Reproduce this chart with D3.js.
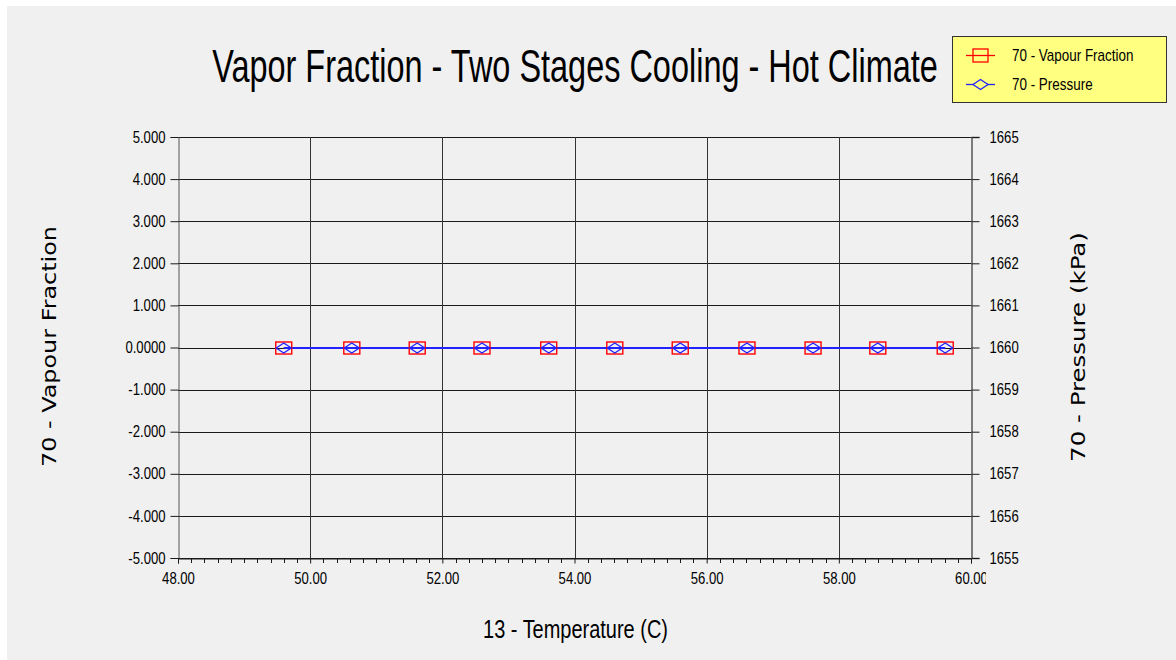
<!DOCTYPE html>
<html><head><meta charset="utf-8">
<script src="https://cdn.jsdelivr.net/npm/d3@7"></script>
<style>
html,body{margin:0;padding:0;background:#fff;}
svg{display:block;}
text{font-family:"Liberation Sans",Arial,sans-serif;fill:#000;}
</style></head>
<body>
<script>
// ---- data ----
const temperature = [49.60, 50.63, 51.62, 52.60, 53.61, 54.61, 55.60, 56.61, 57.61, 58.59, 59.61];
const vapourFraction = [0, 0, 0, 0, 0, 0, 0, 0, 0, 0, 0];
const pressure = [1660, 1660, 1660, 1660, 1660, 1660, 1660, 1660, 1660, 1660, 1660];
const xTicks = [48, 50, 52, 54, 56, 58, 60];
const xTickLabels = ["48.00", "50.00", "52.00", "54.00", "56.00", "58.00", "60.00"];
const leftTicks = [5, 4, 3, 2, 1, 0, -1, -2, -3, -4, -5];
const leftTickLabels = ["5.000", "4.000", "3.000", "2.000", "1.000", "0.0000", "-1.000", "-2.000", "-3.000", "-4.000", "-5.000"];
const rightTicks = [1665, 1664, 1663, 1662, 1661, 1660, 1659, 1658, 1657, 1656, 1655];
const rightTickLabels = ["1665", "1664", "1663", "1662", "1661", "1660", "1659", "1658", "1657", "1656", "1655"];
const seriesNames = ["70 - Vapour Fraction", "70 - Pressure"];
const titleText = "Vapor Fraction - Two Stages Cooling - Hot Climate";
const xLabel = "13 - Temperature (C)";
const leftLabel = "70 - Vapour Fraction";
const rightLabel = "70 - Pressure (kPa)";

// ---- layout ----
const W = 1176, H = 660;
const L = 178, R = 971, T = 137, B = 558;
const NARROW = 0.82;

const svg = d3.select("body").append("svg").attr("width", W).attr("height", H);
svg.append("rect").attr("x", 7).attr("y", 6).attr("width", W - 7).attr("height", H - 6).attr("fill", "#f0f0f0");

const x = d3.scaleLinear().domain([48, 60]).range([L, R]);
const yL = d3.scaleLinear().domain([-5, 5]).range([B, T]);
const yR = d3.scaleLinear().domain([1655, 1665]).range([B, T]);

// horizontally squeeze a text around its own x anchor
function squeeze(sel, sx) {
  sel.each(function () {
    const ax = +(this.getAttribute("x") || 0);
    this.setAttribute("transform", `translate(${ax * (1 - sx)},0) scale(${sx},1)`);
  });
}

svg.append("defs").append("clipPath").attr("id", "xclip")
  .append("rect").attr("x", 0).attr("y", -10).attr("width", 986).attr("height", 60);

// horizontal gridlines
svg.append("g").selectAll("line").data(leftTicks).join("line")
  .attr("x1", L).attr("x2", R)
  .attr("y1", d => Math.round(yL(d)) + 0.5).attr("y2", d => Math.round(yL(d)) + 0.5)
  .attr("stroke", "#1a1a1a").attr("stroke-width", 1);

// vertical gridlines
svg.append("g").selectAll("line").data(xTicks.filter(d => d > 48 && d < 60)).join("line")
  .attr("x1", d => Math.round(x(d)) + 0.5).attr("x2", d => Math.round(x(d)) + 0.5)
  .attr("y1", T).attr("y2", B)
  .attr("stroke", "#333").attr("stroke-width", 1);

// Left axis
const gl = svg.append("g").attr("transform", `translate(${L + 0.5},0)`)
  .call(d3.axisLeft(yL).tickValues(leftTicks).tickSize(8).tickPadding(5)
    .tickFormat((d, i) => leftTickLabels[i]));
gl.select(".domain").attr("stroke", "#555");
gl.selectAll(".tick line").attr("stroke", "#1a1a1a");
gl.selectAll("text").attr("font-size", 16).attr("fill", "#000").style("font-family", '"Liberation Sans",Arial,sans-serif');
squeeze(gl.selectAll("text"), NARROW);

// Right axis
const gr = svg.append("g").attr("transform", `translate(${R + 0.5},0)`)
  .call(d3.axisRight(yR).tickValues(rightTicks).tickSize(8).tickPadding(10)
    .tickFormat((d, i) => rightTickLabels[i]));
gr.select(".domain").attr("stroke", "#555").attr("stroke-width", 1.5);
gr.selectAll(".tick line").attr("stroke", "#1a1a1a");
gr.selectAll("text").attr("font-size", 16).attr("fill", "#000").style("font-family", '"Liberation Sans",Arial,sans-serif');
squeeze(gr.selectAll("text"), NARROW);

// Bottom axis with major labels
const gb = svg.append("g").attr("transform", `translate(0,${B + 0.5})`).attr("clip-path", "url(#xclip)")
  .call(d3.axisBottom(x).tickValues(xTicks).tickSize(5).tickPadding(9)
    .tickFormat((d, i) => xTickLabels[i]));
gb.select(".domain").attr("stroke", "#1a1a1a");
gb.selectAll(".tick line").attr("stroke", "#1a1a1a");
gb.selectAll("text").attr("font-size", 16).attr("fill", "#000").style("font-family", '"Liberation Sans",Arial,sans-serif');
squeeze(gb.selectAll("text"), NARROW);

// minor ticks on x (every 0.2)
const minorTicks = d3.range(1, 60).map(i => 48 + i * 0.2).filter((v, i) => (i + 1) % 10 !== 0);
svg.append("g").selectAll("line").data(minorTicks).join("line")
  .attr("x1", d => Math.round(x(d)) + 0.5).attr("x2", d => Math.round(x(d)) + 0.5)
  .attr("y1", B).attr("y2", B + 5).attr("stroke", "#1a1a1a");

// Series
const vfData = temperature.map((t, i) => [t, vapourFraction[i]]);
const prData = temperature.map((t, i) => [t, pressure[i]]);
svg.append("path").datum(vfData)
  .attr("d", d3.line().x(d => x(d[0])).y(d => yL(d[1]) + 0.5))
  .attr("fill", "none").attr("stroke", "#ff0000").attr("stroke-width", 1);
svg.append("path").datum(prData)
  .attr("d", d3.line().x(d => x(d[0])).y(d => yR(d[1]) + 0.5))
  .attr("fill", "none").attr("stroke", "#2222ff").attr("stroke-width", 2);

const sqW = 16, sqH = 12, dW = 15, dH = 10;
svg.append("g").selectAll("rect").data(vfData).join("rect")
  .attr("x", d => x(d[0]) - sqW / 2).attr("y", d => yL(d[1]) + 0.5 - sqH / 2)
  .attr("width", sqW).attr("height", sqH)
  .attr("fill", "none").attr("stroke", "#ff0000").attr("stroke-width", 1.4);
const diamond = (cx, cy) => `M${cx - dW / 2},${cy}L${cx},${cy - dH / 2}L${cx + dW / 2},${cy}L${cx},${cy + dH / 2}Z`;
svg.append("g").selectAll("path").data(prData).join("path")
  .attr("d", d => diamond(x(d[0]), yR(d[1]) + 0.5))
  .attr("fill", "none").attr("stroke", "#2222ff").attr("stroke-width", 1.3);

// text with fitted width
function fitted(parent, tx, ty, rot, size, family, str, target) {
  const g = parent.append("g").attr("transform", `translate(${tx},${ty}) rotate(${rot})`);
  const t = g.append("text").attr("x", 0).attr("y", 0).attr("text-anchor", "middle")
    .attr("font-size", size).style("font-family", family).text(str);
  const len = t.node().getComputedTextLength();
  t.attr("transform", `scale(${target / len},1)`);
  return t;
}

fitted(svg, 575, 82, 0, 46, '"Liberation Sans",Arial,sans-serif', titleText, 726);
fitted(svg, 575.5, 638, 0, 26, '"Liberation Sans",Arial,sans-serif', xLabel, 185);
fitted(svg, 56, 346.5, -90, 19, '"DejaVu Sans",Verdana,sans-serif', leftLabel, 241);
fitted(svg, 1085, 347, -90, 19, '"DejaVu Sans",Verdana,sans-serif', rightLabel, 230);

// Legend
const lg = svg.append("g");
lg.append("rect").attr("x", 952.5).attr("y", 36.5).attr("width", 214).attr("height", 66)
  .attr("fill", "#ffff80").attr("stroke", "#333").attr("stroke-width", 1);
const legY = [55, 84];
seriesNames.forEach((name, i) => {
  const col = i === 0 ? "#ff0000" : "#2222ff";
  lg.append("line").attr("x1", 966).attr("x2", 995).attr("y1", legY[i] + 0.5).attr("y2", legY[i] + 0.5)
    .attr("stroke", col).attr("stroke-width", 1.3);
  if (i === 0) {
    lg.append("rect").attr("x", 980.5 - 7.5).attr("y", legY[i] + 0.5 - 6.5).attr("width", 15).attr("height", 13)
      .attr("fill", "none").attr("stroke", col).attr("stroke-width", 1.3);
  } else {
    lg.append("path").attr("d", diamond(980.5, legY[i] + 0.5)).attr("fill", "#ffff80").attr("stroke", col).attr("stroke-width", 1.3);
  }
  const t = lg.append("text").attr("x", 1012).attr("y", legY[i] + 6).attr("font-size", 16).text(name);
  squeeze(t, 0.84);
});
</script>
</body></html>
